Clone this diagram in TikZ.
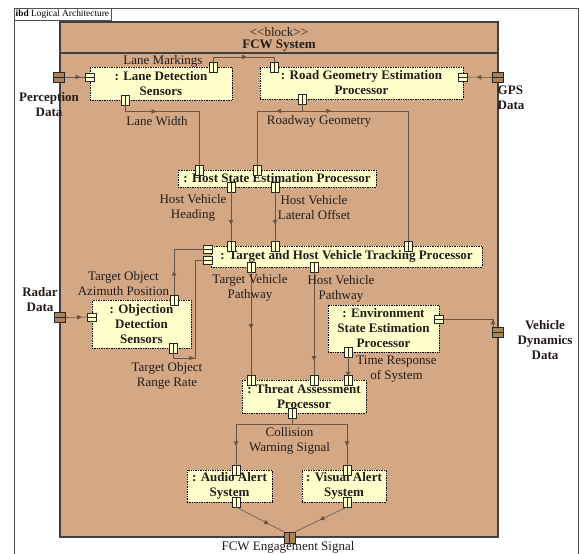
\documentclass[tikz,border=0pt]{standalone}
\usepackage{fontspec}
\setmainfont{Liberation Serif}
\usetikzlibrary{calc,shapes.geometric}
\definecolor{blockfill}{RGB}{213,168,133}
\definecolor{partfill}{RGB}{255,255,204}
\definecolor{portbrown}{RGB}{172,130,88}
\definecolor{linec}{RGB}{105,85,70}
\definecolor{txt}{RGB}{35,28,24}
\definecolor{framec}{RGB}{80,80,80}
\begin{document}
\begin{tikzpicture}[x=1pt,y=-1pt,
  comp/.style={draw=black, densely dotted, line width=0.7pt, fill=partfill, inner sep=0pt, align=center, text=txt, font=\bfseries\fontsize{13}{15}\selectfont},
  lbl/.style={align=center, inner sep=0pt, text=txt, font=\fontsize{13}{15}\selectfont},
  blbl/.style={align=center, inner sep=0pt, text=txt, font=\bfseries\fontsize{13}{15}\selectfont},
  conn/.style={draw=linec, line width=0.6pt},
  vport/.style={draw=black!85, fill=partfill, inner sep=0pt, minimum width=8pt, minimum height=9.5pt, line width=0.5pt,
     path picture={\draw[line width=0.5pt] (path picture bounding box.north) -- (path picture bounding box.south);}},
  hport/.style={draw=black!85, fill=partfill, inner sep=0pt, minimum width=9pt, minimum height=8pt, line width=0.5pt,
     path picture={\draw[line width=0.5pt] (path picture bounding box.west) -- (path picture bounding box.east);}},
  bport/.style={draw=black!85, fill=portbrown, inner sep=0pt, minimum width=11pt, minimum height=10pt, line width=0.6pt,
     path picture={\draw[line width=0.6pt] (path picture bounding box.west) -- (path picture bounding box.east);}},
  bvport/.style={draw=black!85, fill=portbrown, inner sep=0pt, minimum width=11pt, minimum height=11pt, line width=0.6pt,
     path picture={\draw[line width=0.6pt] (path picture bounding box.north) -- (path picture bounding box.south);}},
  tri/.style={isosceles triangle, isosceles triangle apex angle=55, fill=linec, draw=none, inner sep=0pt, minimum size=4.6pt, sloped, allow upside down, anchor=center}
]
\useasboundingbox (0,0) rectangle (581,554);
\fill[white] (0,0) rectangle (581,554);
% outer frame
\draw[framec, line width=0.8pt] (14,560) -- (14,8) -- (578,8) -- (578,560);
\draw[framec, line width=0.8pt] (14,8) rectangle (111,20);
\node[anchor=west, inner sep=0pt, text=black, font=\fontsize{9.4}{11}\selectfont] (tab) at (15.5,14.2) {\textbf{ibd} Logical Architecture};
% block
\draw[fill=blockfill, draw=black!75, line width=1.2pt] (60,22) rectangle (498,537);
\draw[draw=black!75, line width=1.2pt] (60,53) -- (498,53);
\node[lbl] (stereo) at (279,32) {{<}{<}block{>}{>}};
\node[blbl] (bname) at (279,46) {FCW System};

% components
\node[comp, minimum width=142pt, minimum height=33pt] (ld) at (161,83.5) {: Lane Detection\\Sensors};
\node[comp, minimum width=203pt, minimum height=32pt] (rg) at (361.5,83) {: Road Geometry Estimation\\Processor};
\node[comp, minimum width=198pt, minimum height=17pt] (hs) at (277,178.5) {: Host State Estimation Processor};
\node[comp, minimum width=271pt, minimum height=21pt] (tt) at (346.5,256.5) {: Target and Host Vehicle Tracking Processor};
\node[comp, minimum width=99pt, minimum height=48pt] (od) at (141.5,324) {: Objection\\Detection\\Sensors};
\node[comp, minimum width=111pt, minimum height=47pt] (es) at (383.5,328.5) {: Environment\\State Estimation\\Processor};
\node[comp, minimum width=124pt, minimum height=33pt] (ta) at (304,396.5) {: Threat Assessment\\Processor};
\node[comp, minimum width=85pt, minimum height=32pt] (aa) at (229.5,486) {: Audio Alert\\System};
\node[comp, minimum width=84pt, minimum height=32pt] (va) at (344,486) {: Visual Alert\\System};

% ports on parts
\node[hport] (ldL) at (90,77) {};
\node[vport] (ldT) at (213,67) {};
\node[vport] (ldB) at (125,100) {};
\node[vport] (rgT) at (274,67) {};
\node[vport] (rgB) at (302.5,99) {};
\node[hport] (rgR) at (463,77) {};
\node[vport] (hsT1) at (199,170) {};
\node[vport] (hsT2) at (257,170) {};
\node[vport] (hsB1) at (231,187) {};
\node[vport] (hsB2) at (275,187) {};
\node[vport] (ttT1) at (231,246) {};
\node[vport] (ttT2) at (275,246) {};
\node[vport] (ttT3) at (408,246) {};
\node[hport] (ttL1) at (208,249.5) {};
\node[hport] (ttL2) at (208,260) {};
\node[vport] (ttB1) at (251,267) {};
\node[vport] (ttB2) at (314,267) {};
\node[hport] (odL) at (92,317) {};
\node[vport] (odT) at (174,300) {};
\node[vport] (odB) at (173,348) {};
\node[hport] (esR) at (439,319) {};
\node[vport] (esB) at (348,352) {};
\node[vport] (taT1) at (251,380) {};
\node[vport] (taT2) at (314,380) {};
\node[vport] (taT3) at (348,380) {};
\node[vport] (taB) at (292,413) {};
\node[vport] (aaT) at (236,470) {};
\node[vport] (aaB) at (236,502) {};
\node[vport] (vaT) at (347,470) {};
\node[vport] (vaB) at (347,502) {};
% block ports
\node[bport] (pd) at (59,77) {};
\node[bport] (gps) at (498,77.5) {};
\node[bport] (rd) at (60,317.5) {};
\node[bport] (vd) at (498,332) {};
\node[bvport] (fcw) at (289.5,537.5) {};

% connectors
\draw[conn] (pd.east) -- node[tri, pos=.6]{} (ldL.west);
\draw[conn] (gps.west) -- node[tri, pos=.5]{} (rgR.east);
\draw[conn] (rd.east) -- node[tri, pos=.6]{} (odL.west);
\draw[conn] (ldT.north) -- ++(0,-5) -| node[tri, pos=.25]{} (rgT.north);
\draw[conn] (ldB.south) -- ++(0,6.5) -| node[tri, pos=.19]{} (hsT1.north);
\draw[conn] (rgB.south) -- ++(0,7) coordinate (rj) -| node[tri, pos=.25]{} (hsT2.north);
\draw[conn] (rj) -| node[tri, pos=.12]{} (ttT3.north);
\draw[conn] (hsB1.south) -- node[tri, pos=.6]{} (ttT1.north);
\draw[conn] (hsB2.south) -- node[tri, pos=.6]{} (ttT2.north);
\draw[conn] (odT.north) |- node[tri, pos=.23]{} (ttL1.west);
\draw[conn] (odB.south) -- ++(0,5) -| node[tri, pos=.4]{} ([xshift=-8pt]ttL2.west) -- (ttL2.west);
\draw[conn] (ttB1.south) -- node[tri, pos=.52]{} (taT1.north);
\draw[conn] (ttB2.south) -- node[tri, pos=.83]{} (taT2.north);
\draw[conn] (esB.south) -- node[tri, pos=.9]{} (taT3.north);
\draw[conn] ([xshift=-5pt]vd.north) |- node[tri, pos=.25]{} (esR.east);
\draw[conn] (taB.south) -- ++(0,6) coordinate (cj) -| node[tri, pos=.73]{} (aaT.north);
\draw[conn] (cj) -| node[tri, pos=.73]{} (vaT.north);
\draw[conn] (aaB.south) -- node[tri, pos=.63]{} (fcw.north west);
\draw[conn] (vaB.south) -- node[tri, pos=.47]{} (fcw.north east);

% connector labels
\node[lbl] (lLM) at (163,61.5) {Lane Markings};
\node[lbl] (lLW) at (157,121.5) {Lane Width};
\node[lbl] (lRG) at (319,121.5) {Roadway Geometry};
\node[lbl] (lHH) at (193,207.5) {Host Vehicle\\Heading};
\node[lbl] (lHL) at (314,207.5) {Host Vehicle\\Lateral Offset};
\node[lbl] (lAZ) at (123.5,283.5) {Target Object\\Azimuth Position};
\node[lbl] (lRR) at (167,375.5) {Target Object\\Range Rate};
\node[lbl] (lTP) at (250,287.5) {Target Vehicle\\Pathway};
\node[lbl] (lHP) at (341,288.5) {Host Vehicle\\Pathway};
\node[lbl] (lTR) at (396.5,369.5) {Time Response\\of System};
\node[lbl] (lCW) at (289.5,440.5) {Collision\\Warning Signal};
\node[lbl] (lFE) at (288,547.5) {FCW Engagement Signal};
% port labels
\node[blbl] (lPD) at (49,105) {Perception\\Data};
\node[blbl, anchor=west, align=left] (lGPS) at (497.5,98) {GPS\\Data};
\node[blbl] (lRD) at (40,300) {Radar\\Data};
\node[blbl] (lVD) at (545,340) {Vehicle\\Dynamics\\Data};
\end{tikzpicture}
\end{document}
